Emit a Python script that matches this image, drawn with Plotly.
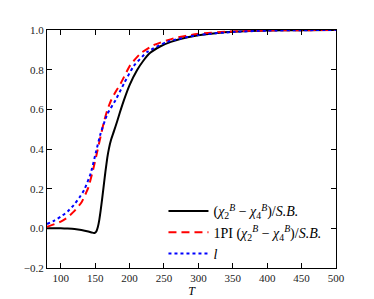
import plotly.graph_objects as go

# Black: (chi2 - chi4)/S.B.
T_black = [80, 90, 100, 110, 120, 130, 140, 145, 148, 150, 152, 154, 156, 158, 160, 162.8, 165, 167.6, 170, 173, 177.3, 182, 186, 191.7, 200, 211, 220, 230, 245, 260, 275, 300, 325, 350, 400, 450, 500]
v_black = [0.0, 0.0, 0.0, -0.001, -0.003, -0.008, -0.016, -0.021, -0.024, -0.022, -0.013, 0.008, 0.043, 0.09, 0.145, 0.225, 0.288, 0.355, 0.402, 0.445, 0.49, 0.54, 0.585, 0.645, 0.722, 0.798, 0.845, 0.885, 0.918, 0.94, 0.956, 0.973, 0.984, 0.991, 0.997, 0.999, 1.0]

# Red: 1PI (chi2 - chi4)/S.B.
T_red = [80, 90, 100, 110, 120, 130, 140, 148, 153.2, 158, 163, 168, 173.4, 180, 187, 201, 216, 235, 264, 298, 350, 400, 450, 500]
v_red = [0.008, 0.02, 0.034, 0.055, 0.088, 0.13, 0.205, 0.31, 0.39, 0.465, 0.54, 0.6, 0.647, 0.69, 0.73, 0.823, 0.882, 0.924, 0.958, 0.98, 0.993, 0.998, 0.999, 1.0]

# Blue: l
T_blue = [80, 90, 100, 110, 119, 127, 134, 143.5, 150.7, 158, 167.6, 179.7, 192, 206, 226, 255, 300, 350, 400, 450, 500]
v_blue = [0.022, 0.038, 0.059, 0.085, 0.118, 0.155, 0.193, 0.277, 0.378, 0.479, 0.575, 0.647, 0.731, 0.818, 0.89, 0.941, 0.975, 0.99, 0.997, 0.999, 1.0]

x_ticks = [100, 150, 200, 250, 300, 350, 400, 450, 500]
y_ticks = [-0.2, 0.0, 0.2, 0.4, 0.6, 0.8, 1.0]

SERIF = "Liberation Serif, serif"

fig = go.Figure()
fig.add_trace(go.Scatter(x=T_black, y=v_black, mode="lines",
                         line=dict(color="black", width=2, shape="spline", smoothing=0.5),
                         name="(<i>χ</i><sub>2</sub><sup><i>B</i></sup> − <i>χ</i><sub>4</sub><sup><i>B</i></sup>)/<i>S.B.</i>"))
fig.add_trace(go.Scatter(x=T_red, y=v_red, mode="lines",
                         line=dict(color="red", width=2, dash="8px,5px", shape="spline", smoothing=0.5),
                         name="1PI (<i>χ</i><sub>2</sub><sup><i>B</i></sup> − <i>χ</i><sub>4</sub><sup><i>B</i></sup>)/<i>S.B.</i>"))
fig.add_trace(go.Scatter(x=T_blue, y=v_blue, mode="lines",
                         line=dict(color="blue", width=2, dash="dot", shape="spline", smoothing=0.5),
                         name="<i>l</i>"))

axis_common = dict(showline=True, linecolor="black", linewidth=1.2, mirror="ticks", ticks="inside",
                   ticklen=5, tickcolor="black", showgrid=False, zeroline=False, automargin=False,
                   tickfont=dict(family=SERIF, size=11, color="#222"))
fig.update_xaxes(range=[80, 500], tickvals=x_ticks,
                 title=dict(text="<i>T</i>", standoff=2, font=dict(family=SERIF, size=12, color="black")),
                 **axis_common)
fig.update_yaxes(range=[-0.2, 1.0], tickvals=y_ticks, tickformat=".1f", **axis_common)

# page body has an 8px default margin; compensate so plot area lands at 47..336 x 30..268
fig.update_layout(
    width=366, height=291,
    margin=dict(l=39, r=38, t=22, b=31),
    paper_bgcolor="white", plot_bgcolor="white",
    font=dict(family=SERIF, size=11, color="black"),
    showlegend=True,
    legend=dict(x=0.403, y=0.305, xanchor="left", yanchor="top", bgcolor="rgba(0,0,0,0)",
                font=dict(family=SERIF, size=14, color="black"), tracegroupgap=0, itemwidth=40),
)

fig.write_html("out.html")
